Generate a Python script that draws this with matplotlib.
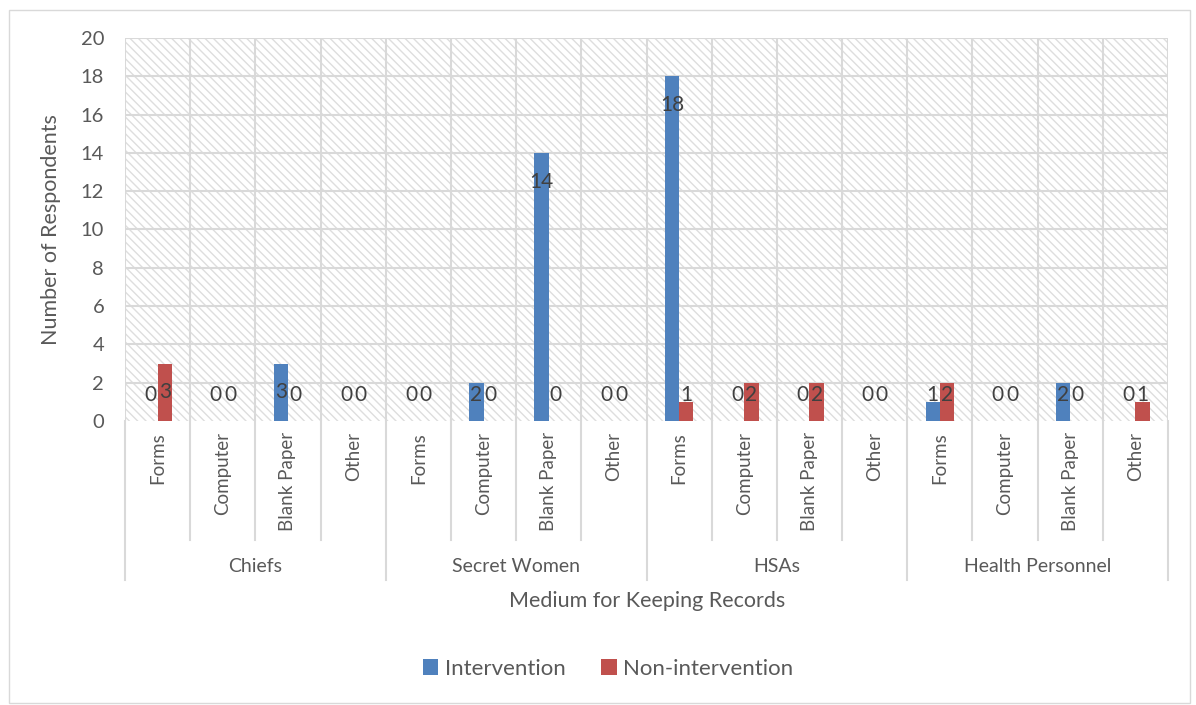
import numpy as np
import matplotlib
matplotlib.use("Agg")
import matplotlib.pyplot as plt
from matplotlib.patches import Rectangle
from matplotlib.transforms import blended_transform_factory

# Record-keeping media per respondent group
groups = ["Chiefs", "Secret Women", "HSAs", "Health Personnel"]
media = ["Forms", "Computer", "Blank Paper", "Other"]
intervention = [0, 0, 3, 0,
                0, 2, 14, 0,
                18, 0, 0, 0,
                1, 0, 2, 0]
non_intervention = [3, 0, 0, 0,
                    0, 0, 0, 0,
                    1, 2, 2, 0,
                    2, 0, 0, 1]
y_ticks = [0, 2, 4, 6, 8, 10, 12, 14, 16, 18, 20]

BLUE = "#4F81BD"
RED = "#C0504D"
TEXT = "#595959"
GRID = "#D9D9D9"

plt.rcParams["font.family"] = ["Lato", "DejaVu Sans"]
plt.rcParams["hatch.linewidth"] = 1.0

fig = plt.figure(figsize=(11.96, 7.05), dpi=100)
ax = fig.add_axes([125 / 1196, 1 - 421 / 705, (1168 - 125) / 1196, (421 - 38) / 705])

n = len(intervention)
x = np.arange(n)
w = 0.22

# hatched plot-area background
ax.add_patch(Rectangle((0, 0), 1, 1, transform=ax.transAxes, facecolor="white",
                       edgecolor="#DEDEDE", hatch="\\\\\\\\", lw=0, zorder=0))

ax.set_xlim(-0.5, n - 0.5)
ax.set_ylim(0, 20)
ax.set_yticks(y_ticks)
for yv in y_ticks[1:]:
    ax.axhline(yv, color=GRID, lw=1.5, zorder=1)
for xv in np.arange(-0.5, n, 1.0):
    ax.axvline(xv, color=GRID, lw=1.5, zorder=1)

ax.bar(x - w / 2, intervention, width=w, color=BLUE, zorder=3, label="Intervention")
ax.bar(x + w / 2, non_intervention, width=w, color=RED, zorder=3, label="Non-intervention")

# value labels near the top of each bar, kept clear of the baseline
for xi, v in zip(x - w / 2, intervention):
    ax.text(xi, max(v - 1.5, 1.36), str(v), ha="center", va="center",
            fontsize=15, color="#404040", zorder=4)
for xi, v in zip(x + w / 2, non_intervention):
    ax.text(xi, max(v - 1.5, 1.36), str(v), ha="center", va="center",
            fontsize=15, color="#404040", zorder=4)

for s in ax.spines.values():
    s.set_visible(False)
ax.tick_params(axis="y", length=0, labelsize=14.5, labelcolor=TEXT, pad=15)
ax.set_xticks([])

# two-level category axis
tr = blended_transform_factory(ax.transData, ax.transAxes)
ax_h = 421 - 38
y_sub = -(540 - 421) / ax_h
y_grp = -(580 - 421) / ax_h
for i in range(n):
    ax.text(i, -(432 - 421) / ax_h, media[i % 4], rotation=90, ha="center", va="top",
            fontsize=13.5, color=TEXT, transform=tr)
for k in range(n + 1):
    xb = k - 0.5
    y_end = y_grp if k % 4 == 0 else y_sub
    ax.plot([xb, xb], [0, y_end], color=GRID, lw=1.5, transform=tr, clip_on=False)
for g, name in enumerate(groups):
    ax.text(g * 4 + 1.5, -(567 - 421) / ax_h, name, ha="center", va="center",
            fontsize=14, color=TEXT, transform=tr)

ax.set_ylabel("Number of Respondents", fontsize=15.5, color=TEXT, labelpad=14)
fig.text(647 / 1196, 1 - 601 / 705, "Medium for Keeping Records", ha="center",
         va="center", fontsize=15.5, color=TEXT)

fig.legend(loc="center", bbox_to_anchor=(608 / 1196, 1 - 669 / 705), ncol=2,
           frameon=False, fontsize=16, labelcolor=TEXT, handlelength=0.7,
           handleheight=0.7, handletextpad=0.3, columnspacing=1.6)

# chart border
fig.add_artist(Rectangle((9 / 1196, 2 / 705), 1181 / 1196, 693 / 705,
                         transform=fig.transFigure, fill=False, edgecolor=GRID, lw=1))

fig.savefig("out.png", dpi=100)
